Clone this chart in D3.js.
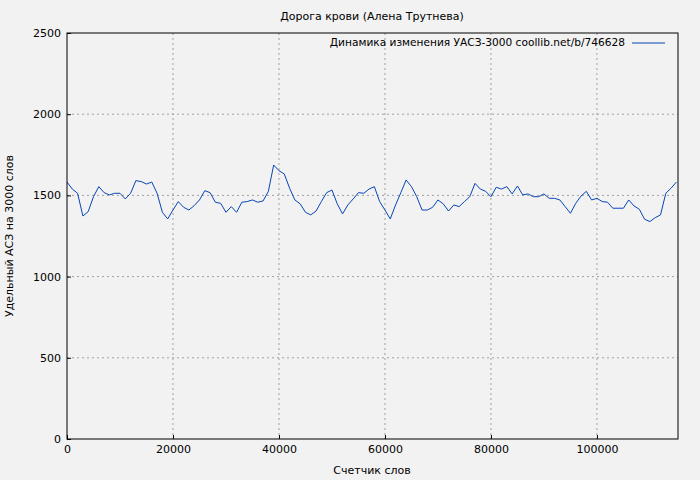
<!DOCTYPE html>
<html><head><meta charset="utf-8">
<script src="https://cdn.jsdelivr.net/npm/d3@7"></script>
<style>body{margin:0;background:#f2f2f2}svg{font-family:"DejaVu Sans",sans-serif}</style>
</head><body><svg id="c" width="700" height="480"></svg>
<script>
const title = "Дорога крови (Алена Трутнева)";
const seriesName = "Динамика изменения УАСЗ-3000 coollib.net/b/746628";
const xLabel = "Счетчик слов";
const yLabel = "Удельный АСЗ на 3000 слов";
const step = 1000;
const values = [1582,1539,1513,1373,1400,1492,1554,1517,1503,1513,1513,1478,1513,1591,1585,1570,1582,1513,1396,1355,
1410,1462,1427,1410,1437,1472,1529,1517,1458,1451,1396,1431,1396,1458,1462,1472,1458,1466,1525,1687,
1652,1632,1545,1472,1448,1396,1380,1404,1462,1517,1533,1448,1386,1441,1478,1517,1513,1539,1554,1462,
1410,1355,1441,1517,1595,1554,1492,1410,1410,1427,1472,1448,1404,1441,1431,1462,1492,1574,1539,1525,
1492,1550,1539,1554,1509,1558,1503,1509,1492,1492,1509,1482,1482,1472,1431,1390,1451,1496,1525,1472,
1482,1462,1458,1421,1421,1421,1472,1435,1415,1353,1339,1363,1380,1513,1545,1582];
const xTicks = [0,20000,40000,60000,80000,100000];
const yTicks = [0,500,1000,1500,2000,2500];

const svg = d3.select("#c");
const m = {l:67, r:678, t:33, b:439};
const x = d3.scaleLinear().domain([0,115300]).range([m.l,m.r]);
const y = d3.scaleLinear().domain([0,2500]).range([m.b,m.t]);
svg.append("rect").attr("width",700).attr("height",480).attr("fill","#f2f2f2");
const g = svg.append("g");
g.selectAll(".gx").data(xTicks.slice(1)).join("line").attr("x1",d=>x(d)).attr("x2",d=>x(d)).attr("y1",m.t).attr("y2",m.b)
 .attr("stroke","#a0a0a0").attr("stroke-dasharray","2,3");
g.selectAll(".gy").data(yTicks.slice(1,-1)).join("line").attr("y1",d=>y(d)).attr("y2",d=>y(d)).attr("x1",m.l).attr("x2",m.r)
 .attr("stroke","#a0a0a0").attr("stroke-dasharray","2,3");
const data = values.map((v,i)=>[i*step,v]);
svg.append("path").datum(data).attr("fill","none").attr("stroke","#0645b5").attr("stroke-width",1)
 .attr("d",d3.line().x(d=>x(d[0])).y(d=>y(d[1])));
svg.append("rect").attr("x",m.l).attr("y",m.t).attr("width",m.r-m.l).attr("height",m.b-m.t).attr("fill","none").attr("stroke","#000");
const xa = svg.append("g").attr("transform",`translate(0,${m.b})`).call(d3.axisBottom(x).tickValues(xTicks).tickFormat(d3.format("d")).tickSize(4));
const ya = svg.append("g").attr("transform",`translate(${m.l},0)`).call(d3.axisLeft(y).tickValues(yTicks).tickFormat(d3.format("d")).tickSize(4));
[xa,ya].forEach(a=>{a.select(".domain").remove();a.selectAll("text").attr("font-size",11).attr("fill","#000").attr("font-family","DejaVu Sans");});
ya.selectAll(".tick line").attr("x2",4).attr("x1",0);
ya.selectAll("text").attr("x",-6);
xa.selectAll(".tick line").attr("y1",0).attr("y2",-4);
xa.selectAll("text").attr("y",6);
svg.append("text").attr("x",372).attr("y",20).attr("text-anchor","middle").attr("font-size",11).text(title);
svg.append("text").attr("x",372).attr("y",474).attr("text-anchor","middle").attr("font-size",11).text(xLabel);
svg.append("text").attr("transform","translate(13,236) rotate(-90)").attr("text-anchor","middle").attr("font-size",11).text(yLabel);
svg.append("text").attr("x",625).attr("y",46).attr("text-anchor","end").attr("font-size",10.6).text(seriesName);
svg.append("line").attr("x1",632).attr("x2",665).attr("y1",43).attr("y2",43).attr("stroke","#0645b5");
</script></body></html>
